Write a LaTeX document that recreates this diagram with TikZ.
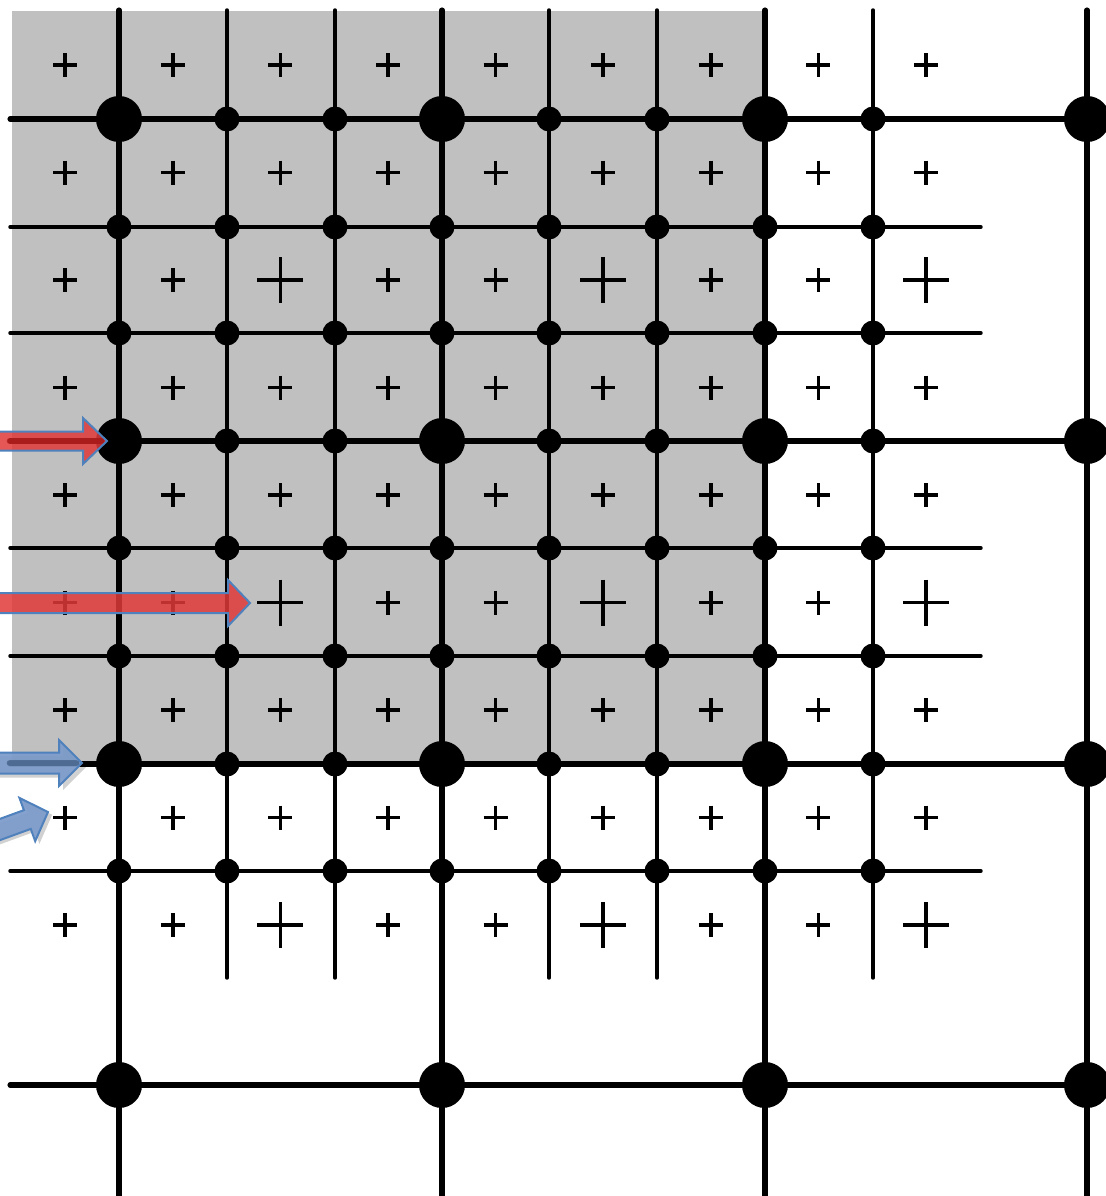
\documentclass[tikz,border=0pt]{standalone}
\definecolor{gridgray}{HTML}{C0C0C0}
\definecolor{arrred}{HTML}{E03A3A}
\definecolor{arrredd}{HTML}{9A0C0C}
\definecolor{arrblue}{HTML}{7E9CCA}
\definecolor{arrblued}{HTML}{2C4A70}
\definecolor{arredge}{HTML}{4F81BD}
\begin{document}
\begin{tikzpicture}[x=0.75pt,y=-0.75pt,
  thickline/.style={line width=3.8pt,line cap=round},
  thinline/.style={line width=2.6pt,line cap=round},
  plusmark/.style={line width=2.6pt},
  bigdot/.style={fill=black},
  redarrow/.style={fill=arrred,fill opacity=0.85,draw=arredge,line width=1.5pt,line join=miter},
  bluearrow/.style={fill=arrblue,fill opacity=0.95,draw=arredge,line width=1.5pt,line join=miter},
  arrshadow/.style={fill=black,fill opacity=0.18,draw=none},
  redcore/.style={draw=arrredd,line width=5pt,draw opacity=0.55,line cap=round},
  bluecore/.style={draw=arrblued,line width=5pt,draw opacity=0.55,line cap=round}]
\useasboundingbox (0,0) rectangle (1106,1196);
% shaded region
\fill[gridgray] (12,11) rectangle (765,764);
% thin grid lines
\foreach \x in {227,335,549,657,873} \draw[thinline] (\x,10) -- (\x,978);
\foreach \y in {227,333,548,656,871} \draw[thinline] (10,\y) -- (981,\y);
% thick grid lines
\foreach \x in {119,442,765,1087} \draw[thickline] (\x,10) -- (\x,1200);
\foreach \y in {119,441,764,1085} \draw[thickline] (10,\y) -- (1110,\y);
% small dots
\foreach \x in {119,227,335,442,549,657,765,873}
  \foreach \y in {119,227,333,441,548,656,764,871}
    \fill (\x,\y) circle[radius=12.5];
% large dots
\foreach \x in {119,442,765,1087}
  \foreach \y in {119,441,764,1085}
    \fill[bigdot] (\x,\y) circle[radius=23];
% plus marks
\foreach \k in {0,...,8}
  \foreach \l in {0,...,8}{
    \pgfmathsetmacro\s{ifthenelse(and(mod(\k,3)==2,mod(\l,3)==2),23,12)}
    \pgfmathsetmacro\cx{65.2+107.6*\k}
    \pgfmathsetmacro\cy{65.2+107.5*\l}
    \draw[plusmark] (\cx-\s,\cy) -- (\cx+\s,\cy) (\cx,\cy-\s) -- (\cx,\cy+\s);
  }
% red arrow 1
\begin{scope}[shift={(107,441)}]
  \draw[redarrow] (-112,-9.5) -- (-24,-9.5) -- (-24,-23) -- (0,0) -- (-24,23) -- (-24,9.5) -- (-112,9.5) -- cycle;
  \draw[redcore] (-97,0) -- (-6,0);
\end{scope}
% red arrow 2
\begin{scope}[shift={(250,603)}]
  \draw[redarrow] (-255,-10) -- (-22,-10) -- (-22,-23) -- (0,0) -- (-22,23) -- (-22,10) -- (-255,10) -- cycle;
\end{scope}
% blue arrow 1
\begin{scope}[shift={(82,763)}]
  \fill[arrshadow] (-87,-6.5) -- (-19,-6.5) -- (-19,-19) -- (4,4) -- (-19,27) -- (-19,14.5) -- (-87,14.5) -- cycle;
  \draw[bluearrow] (-87,-10.5) -- (-23,-10.5) -- (-23,-23) -- (0,0) -- (-23,23) -- (-23,10.5) -- (-87,10.5) -- cycle;
  \draw[bluecore] (-72,0) -- (-6,0);
\end{scope}
% blue arrow 2
\begin{scope}[shift={(48,812)},rotate=20]
  \fill[arrshadow,shift={(3,4)}] (-75,-10) -- (-22,-10) -- (-22,-23) -- (0,0) -- (-22,23) -- (-22,10) -- (-75,10) -- cycle;
  \draw[bluearrow] (-75,-10) -- (-22,-10) -- (-22,-23) -- (0,0) -- (-22,23) -- (-22,10) -- (-75,10) -- cycle;
\end{scope}
\end{tikzpicture}
\end{document}
